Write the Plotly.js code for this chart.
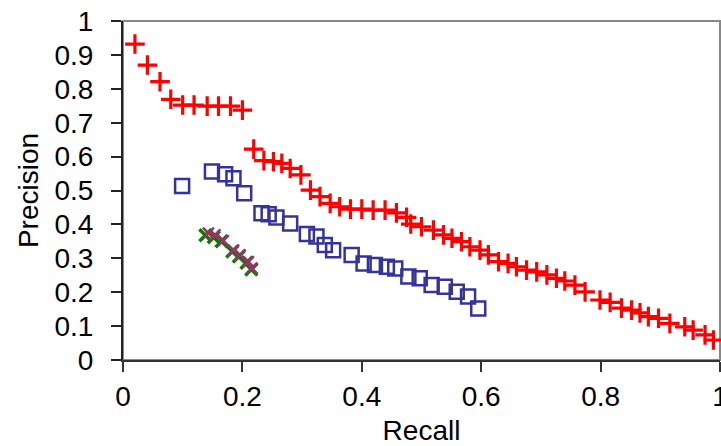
<!DOCTYPE html>
<html>
<head>
<meta charset="utf-8">
<script src="https://cdn.plot.ly/plotly-3.0.1.min.js"></script>
<style>html,body{margin:0;padding:0;background:#fff;}#chart{width:721px;height:446px;}</style>
</head>
<body>
<div id="chart"></div>
<script>
// Red series (+)
const redRecall = [0.020,0.041,0.062,0.080,0.100,0.119,0.141,0.160,0.180,0.200,
  0.219,0.236,0.252,0.266,0.280,0.298,0.314,0.330,0.347,0.363,
  0.381,0.400,0.419,0.439,0.458,0.475,0.482,0.500,0.520,0.537,
  0.551,0.567,0.581,0.598,0.612,0.629,0.645,0.659,0.676,0.693,
  0.710,0.726,0.740,0.757,0.774,0.799,0.816,0.835,0.852,0.866,
  0.880,0.897,0.916,0.941,0.955,0.975,0.989];
const redPrecision = [0.932,0.870,0.821,0.769,0.752,0.752,0.749,0.749,0.749,0.737,
  0.622,0.588,0.585,0.580,0.565,0.546,0.501,0.482,0.462,0.452,
  0.445,0.445,0.442,0.442,0.434,0.421,0.401,0.393,0.383,0.369,
  0.359,0.349,0.334,0.324,0.310,0.290,0.285,0.275,0.265,0.260,
  0.251,0.241,0.233,0.221,0.201,0.177,0.170,0.153,0.147,0.139,
  0.128,0.123,0.108,0.098,0.088,0.074,0.059];

// Blue series (open squares)
const blueRecall = [0.099,0.149,0.171,0.185,0.203,0.232,0.244,0.257,0.280,0.308,
  0.324,0.338,0.352,0.383,0.403,0.422,0.442,0.456,0.478,0.497,
  0.517,0.539,0.559,0.578,0.595];
const bluePrecision = [0.513,0.556,0.548,0.536,0.492,0.433,0.430,0.420,0.403,0.372,
  0.364,0.339,0.324,0.310,0.285,0.280,0.275,0.270,0.246,0.241,
  0.221,0.216,0.201,0.187,0.152];

// Green series
const greenRecall = [0.138,0.152,0.165,0.183,0.194,0.207,0.215];
const greenPrecision = [0.368,0.362,0.350,0.320,0.305,0.287,0.267];

// Purple series
const purpleRecall = [0.143,0.154,0.168,0.185,0.196,0.210,0.216];
const purplePrecision = [0.374,0.369,0.352,0.324,0.310,0.290,0.271];

const yTicks = [0,0.1,0.2,0.3,0.4,0.5,0.6,0.7,0.8,0.9,1];
const yTickText = ["0","0.1","0.2","0.3","0.4","0.5","0.6","0.7","0.8","0.9","1"];
const xTicks = [0,0.2,0.4,0.6,0.8,1];
const xTickText = ["0","0.2","0.4","0.6","0.8","1"];

const FONT = "Liberation Sans, Arial, sans-serif";

const traces = [
  {x: greenRecall, y: greenPrecision, type: "scatter", mode: "markers", cliponaxis: false,
   marker: {symbol: "x-thin", size: 12, color: "#008000", line: {color: "#008000", width: 3.5}}},
  {x: purpleRecall, y: purplePrecision, type: "scatter", mode: "markers", cliponaxis: false,
   marker: {symbol: "x-thin", size: 11, color: "#993366", line: {color: "#993366", width: 2.5}}},
  {x: blueRecall, y: bluePrecision, type: "scatter", mode: "markers", cliponaxis: false,
   marker: {symbol: "square-open", size: 14, color: "#333399", line: {color: "#333399", width: 2.5}}},
  {x: redRecall, y: redPrecision, type: "scatter", mode: "markers", cliponaxis: false,
   marker: {symbol: "cross-thin", size: 14, color: "#ff0000", line: {color: "#ff0000", width: 3.2}}}
];

const layout = {
  width: 721, height: 446,
  margin: {l: 123, r: 1, t: 21, b: 86, pad: 0},
  paper_bgcolor: "#ffffff", plot_bgcolor: "#ffffff",
  showlegend: false,
  font: {family: FONT, size: 28, color: "#000"},
  xaxis: {
    range: [0, 1], tickvals: xTicks, ticktext: xTickText,
    showgrid: false, zeroline: false, showline: true, linecolor: "#333", linewidth: 2,
    ticks: "outside", ticklen: 10, tickwidth: 2, tickcolor: "#333",
    ticklabelstandoff: 0, ticklabeloverflow: "allow",
    tickfont: {family: FONT, size: 28, color: "#000"},
    title: {text: "Recall", font: {family: FONT, size: 28, color: "#000"}, standoff: 10},
    automargin: false
  },
  yaxis: {
    range: [0, 1], tickvals: yTicks, ticktext: yTickText,
    showgrid: false, zeroline: false, showline: true, linecolor: "#222", linewidth: 2,
    ticks: "outside", ticklen: 10, tickwidth: 2, tickcolor: "#222",
    ticklabelstandoff: 12,
    tickfont: {family: FONT, size: 28, color: "#000"},
    title: {text: "Precision", font: {family: FONT, size: 28, color: "#000"}, standoff: 8},
    automargin: false
  },
  shapes: [
    {type: "rect", xref: "paper", yref: "paper", x0: 0, y0: 0, x1: 1, y1: 1,
     line: {color: "#888", width: 2}, layer: "below"}
  ]
};

Plotly.newPlot("chart", traces, layout, {displayModeBar: false, staticPlot: true});
</script>
</body>
</html>
